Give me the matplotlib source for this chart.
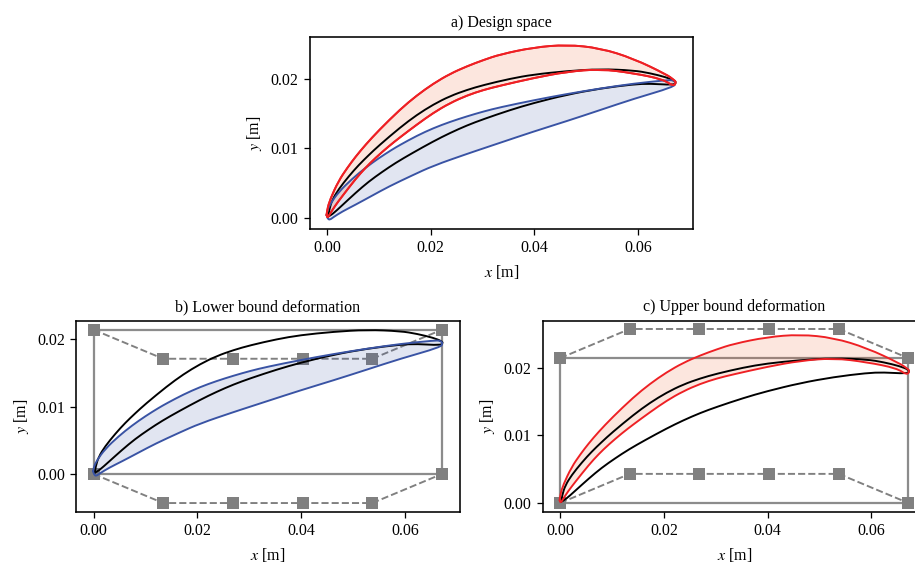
import matplotlib
matplotlib.use("Agg")
import matplotlib.pyplot as plt
from matplotlib.patches import PathPatch
from matplotlib.path import Path
from matplotlib.ticker import FormatStrFormatter

plt.rcParams.update({"font.family": "Liberation Serif", "mathtext.fontset": "stix", "font.size": 10,
                     "axes.linewidth": 1.0})

base_up_x = [0.0002, 0.0004, 0.0010, 0.0022, 0.0042, 0.0061, 0.0080, 0.0100, 0.0141, 0.0173, 0.0205, 0.0237, 0.0270, 0.0302, 0.0353, 0.0398, 0.0462, 0.0527, 0.0591, 0.0623, 0.0655, 0.0671, 0.0673]
base_up_y = [0.0002, 0.0012, 0.0026, 0.0041, 0.0060, 0.0076, 0.0090, 0.0104, 0.0130, 0.0148, 0.0163, 0.0175, 0.0184, 0.0191, 0.0200, 0.0206, 0.0211, 0.0214, 0.0212, 0.0208, 0.0202, 0.0197, 0.0194]
base_lo_x = [0.0668, 0.0623, 0.0591, 0.0527, 0.0462, 0.0398, 0.0353, 0.0302, 0.0270, 0.0237, 0.0205, 0.0164, 0.0132, 0.0106, 0.0080, 0.0055, 0.0029, 0.0010, 0.0002]
base_lo_y = [0.0191, 0.0193, 0.0192, 0.0186, 0.0177, 0.0165, 0.0155, 0.0142, 0.0133, 0.0122, 0.0110, 0.0093, 0.0079, 0.0066, 0.0052, 0.0036, 0.0018, 0.0005, 0.0002]

blue_up_x = [-0.0001, 0.0, 0.0006, 0.0022, 0.0048, 0.0074, 0.0100, 0.0125, 0.0141, 0.0173, 0.0205, 0.0237, 0.0270, 0.0302, 0.0334, 0.0398, 0.0462, 0.0527, 0.0591, 0.0655, 0.0668, 0.0673]
blue_up_y = [0.0004, 0.0010, 0.0020, 0.0037, 0.0056, 0.0072, 0.0086, 0.0098, 0.0105, 0.0118, 0.0129, 0.0138, 0.0146, 0.0153, 0.0159, 0.0169, 0.0178, 0.0186, 0.0193, 0.0198, 0.0198, 0.0194]
blue_lo_x = [0.0668, 0.0591, 0.0527, 0.0462, 0.0398, 0.0334, 0.0302, 0.0270, 0.0205, 0.0164, 0.0119, 0.0087, 0.0055, 0.0029, 0.0012, 0.0005, 0.0001, -0.0001]
blue_lo_y = [0.0188, 0.0171, 0.0155, 0.0139, 0.0124, 0.0108, 0.0100, 0.0092, 0.0075, 0.0061, 0.0045, 0.0032, 0.0019, 0.0009, 0.0001, -0.0003, -0.0001, 0.0004]

red_up_x = [-0.0001, 0.0, 0.0006, 0.0022, 0.0039, 0.0055, 0.0074, 0.0100, 0.0141, 0.0173, 0.0205, 0.0237, 0.0270, 0.0302, 0.0334, 0.0398, 0.0462, 0.0527, 0.0591, 0.0655, 0.0668, 0.0674]
red_up_y = [0.0004, 0.0012, 0.0027, 0.0053, 0.0072, 0.0088, 0.0105, 0.0126, 0.0156, 0.0176, 0.0193, 0.0207, 0.0218, 0.0227, 0.0235, 0.0245, 0.0249, 0.0244, 0.0229, 0.0206, 0.0199, 0.0195]
red_lo_x = [0.0668, 0.0649, 0.0591, 0.0527, 0.0462, 0.0398, 0.0334, 0.0302, 0.0270, 0.0237, 0.0205, 0.0173, 0.0141, 0.0119, 0.0093, 0.0074, 0.0055, 0.0029, 0.0015, 0.0005, 0.0001, -0.0001]
red_lo_y = [0.0189, 0.0199, 0.0208, 0.0214, 0.0210, 0.0201, 0.0190, 0.0184, 0.0176, 0.0165, 0.0151, 0.0134, 0.0116, 0.0103, 0.0086, 0.0072, 0.0056, 0.0031, 0.0017, 0.0005, 0.0, 0.0004]

box_x = [0.0, 0.0671, 0.0671, 0.0, 0.0]
box_y = [0.0, 0.0, 0.0214, 0.0214, 0.0]
ctrl_x = [0.0, 0.0134, 0.0268, 0.0403, 0.0537, 0.0671]
b_top = [0.0214, 0.0171, 0.0171, 0.0171, 0.0171, 0.0214]
b_bot = [0.0, -0.0043, -0.0043, -0.0043, -0.0043, 0.0]
c_top = [0.0214, 0.0257, 0.0257, 0.0257, 0.0257, 0.0214]
c_bot = [0.0, 0.0043, 0.0043, 0.0043, 0.0043, 0.0]

x_ticks = [0.0, 0.02, 0.04, 0.06]
y_ticks = [0.0, 0.01, 0.02]
titles = ["a) Design space", "b) Lower bound deformation", "c) Upper bound deformation"]

BLUE, RED, GREY = "#3953a4", "#ee2024", "#808080"
W, H = 915, 563
DPI = 115
LW = 1.2
fig = plt.figure(figsize=(W / DPI, H / DPI), dpi=DPI)


def axes_px(l, r, t, b):
    return fig.add_axes([l / W, (H - b) / H, (r - l) / W, (b - t) / H])


def curve(xs, ys):
    """A smooth path that takes the read points as quadratic control points."""
    pts = list(zip(xs, ys))
    verts, codes = [pts[0]], [Path.MOVETO]
    for p, q in zip(pts[1:-1], pts[2:]):
        verts += [p, ((p[0] + q[0]) / 2, (p[1] + q[1]) / 2)]
        codes += [Path.CURVE3, Path.CURVE3]
    verts.append(pts[-1])
    codes.append(Path.LINETO)
    return Path(verts, codes)


def outline(ax, xs, ys, color, z):
    ax.add_patch(PathPatch(curve(xs, ys), fill=False, ec=color, lw=LW, zorder=z, capstyle="round"))


def shape(ax, ux, uy, lx, ly, color, fill):
    ax.add_patch(PathPatch(curve(ux + lx, uy + ly), fc=fill, alpha=0.15, lw=0, zorder=2.5))
    outline(ax, ux + lx, uy + ly, color, 4)


def base(ax):
    outline(ax, base_up_x + base_lo_x, base_up_y + base_lo_y, "k", 3)


def ffd(ax, top, bot):
    ax.plot(box_x, box_y, color=GREY, lw=1.4, alpha=0.9, zorder=1)
    for ys in (top, bot):
        ax.plot(ctrl_x, ys, color=GREY, lw=1.2, ls="--", marker="s", ms=8, mew=0, zorder=2)


def finish(ax, title, ylim):
    ax.set_xlim(-0.0034, 0.0706)
    ax.set_ylim(*ylim)
    ax.set_xticks(x_ticks)
    ax.set_yticks(y_ticks)
    ax.xaxis.set_major_formatter(FormatStrFormatter("%.2f"))
    ax.yaxis.set_major_formatter(FormatStrFormatter("%.2f"))
    ax.set_xlabel(r"$x$ [m]")
    ax.set_ylabel(r"$y$ [m]")
    ax.set_title(title, fontsize=10, pad=6)


ax = axes_px(309.5, 693, 37, 229)
shape(ax, blue_up_x, blue_up_y, blue_lo_x, blue_lo_y, BLUE, BLUE)
shape(ax, red_up_x, red_up_y, red_lo_x, red_lo_y, RED, "#f15a22")
base(ax)
outline(ax, red_up_x + red_lo_x, red_up_y + red_lo_y, RED, 5)
finish(ax, titles[0], (-0.0016, 0.026))

ax = axes_px(76, 460, 321, 512)
ffd(ax, b_top, b_bot)
base(ax)
shape(ax, blue_up_x, blue_up_y, blue_lo_x, blue_lo_y, BLUE, BLUE)
finish(ax, titles[1], (-0.00563, 0.0227))

ax = axes_px(542.5, 926.5, 321, 512)
ffd(ax, c_top, c_bot)
base(ax)
shape(ax, red_up_x, red_up_y, red_lo_x, red_lo_y, RED, "#f15a22")
finish(ax, titles[2], (-0.00133, 0.02688))

fig.savefig("out.png", dpi=DPI)
